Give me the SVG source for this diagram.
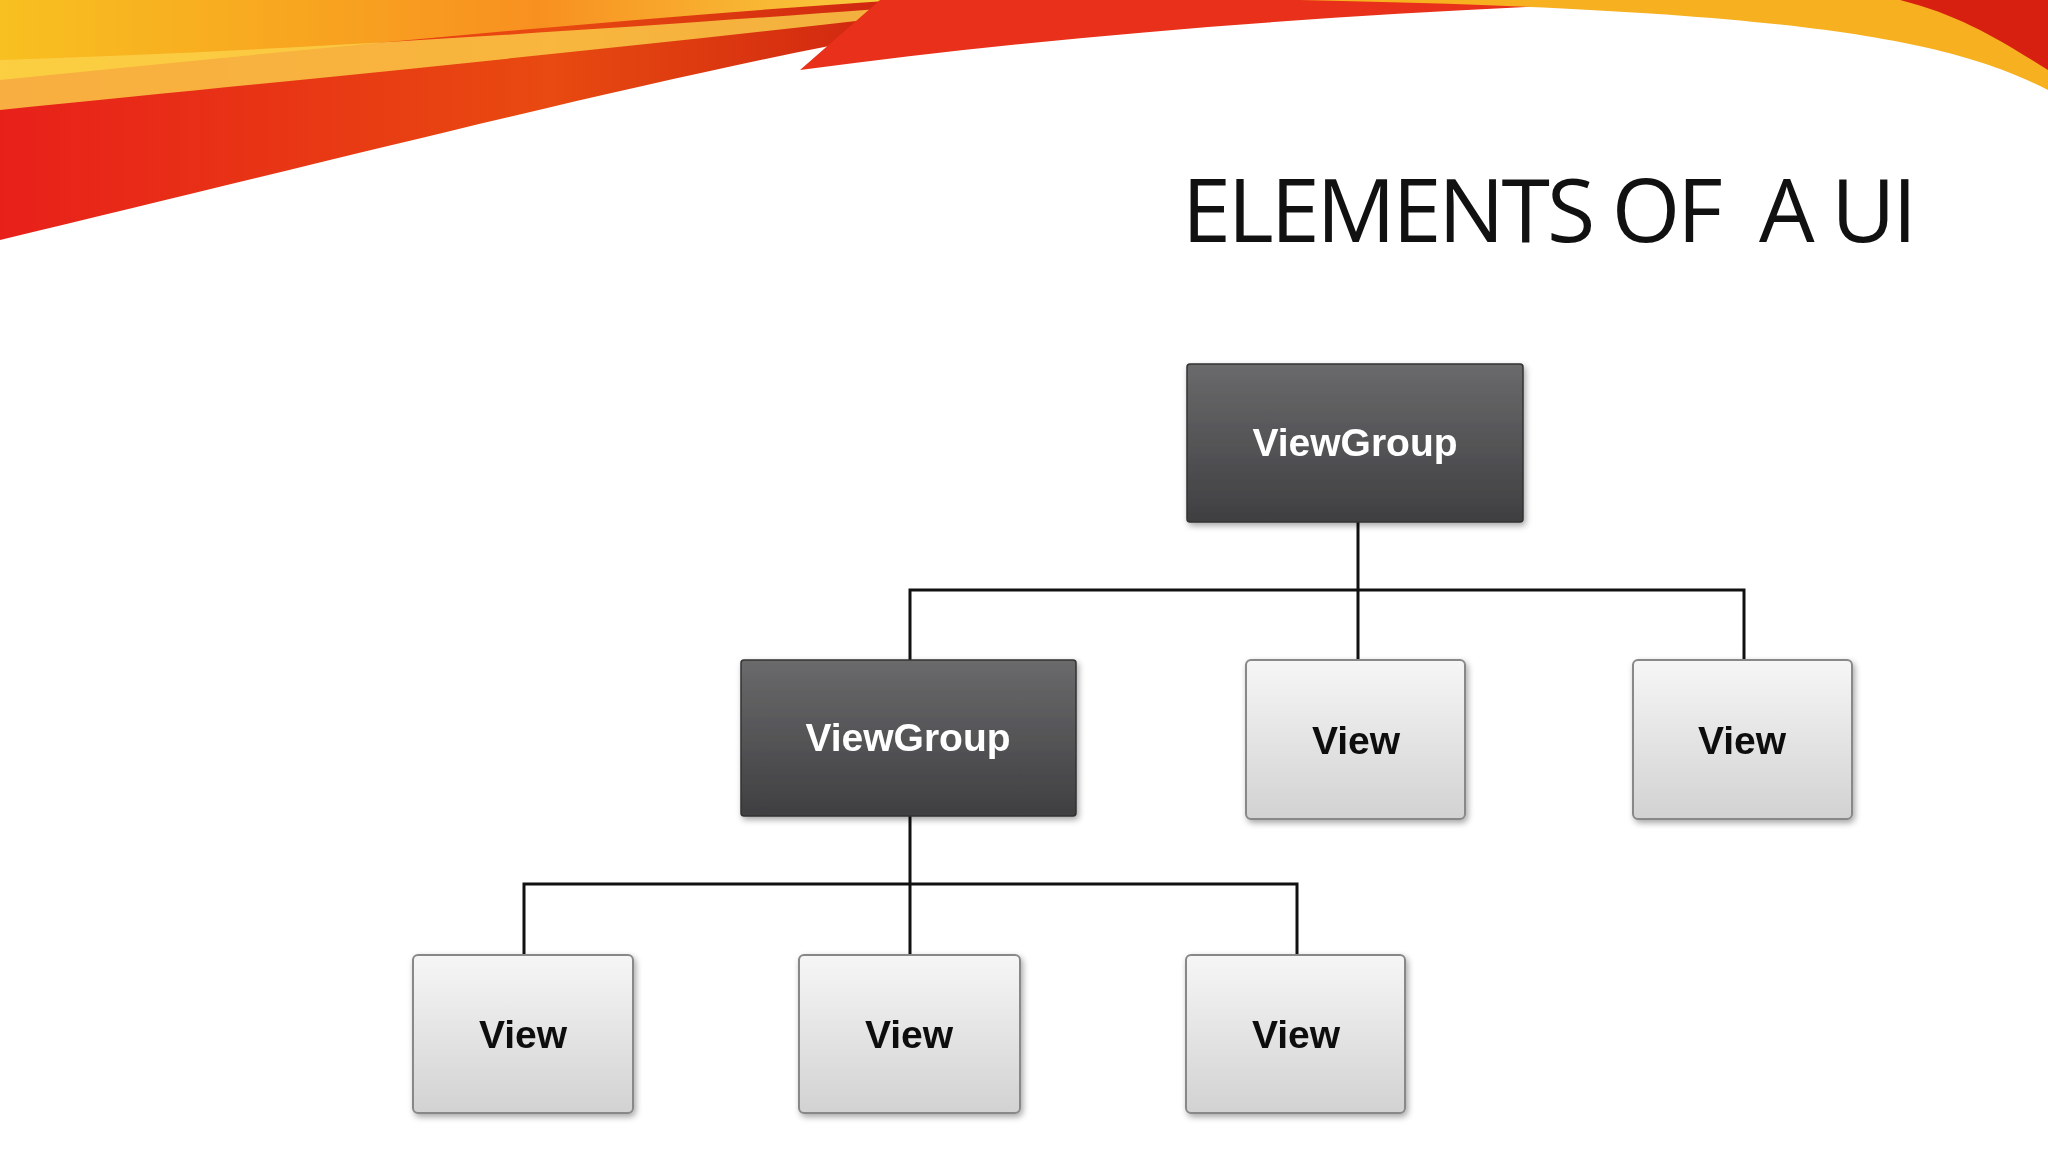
<svg xmlns="http://www.w3.org/2000/svg" width="2048" height="1152" viewBox="0 0 2048 1152">
<defs>
<linearGradient id="dark" x1="0" y1="0" x2="0" y2="1"><stop offset="0" stop-color="#6a6a6c"/><stop offset="1" stop-color="#3f3f41"/></linearGradient>
<linearGradient id="light" x1="0" y1="0" x2="0" y2="1"><stop offset="0" stop-color="#f6f6f6"/><stop offset="1" stop-color="#d2d2d2"/></linearGradient>
<linearGradient id="sw1" x1="0" y1="0" x2="1" y2="0"><stop offset="0" stop-color="#e8201a"/><stop offset="0.5" stop-color="#e84a10"/><stop offset="1" stop-color="#c01010"/></linearGradient>
<linearGradient id="sw2" x1="0" y1="0" x2="1" y2="0"><stop offset="0" stop-color="#f8c020"/><stop offset="0.6" stop-color="#f89020"/><stop offset="1" stop-color="#f8d040"/></linearGradient>
<filter id="sh" x="-10%" y="-10%" width="120%" height="130%"><feDropShadow dx="2" dy="3" stdDeviation="3" flood-opacity="0.35"/></filter>
<style>
.dk{fill:url(#dark);stroke:#333;stroke-width:1.5}
.lt{fill:url(#light);stroke:#888;stroke-width:2}
.tw{font-family:"Liberation Sans",Arial,sans-serif;font-weight:bold;font-size:39px;fill:#fff;text-anchor:middle}
.tb{font-family:"Liberation Sans",Arial,sans-serif;font-weight:bold;font-size:39px;fill:#111;text-anchor:middle}
.ln{fill:none;stroke:#111;stroke-width:3}
</style>
</defs>
<rect width="2048" height="1152" fill="#fff"/>
<g id="swoosh">
<path d="M0 0 H1100 C800 40 500 120 0 240 Z" fill="url(#sw1)"/>
<path d="M0 0 H900 C600 20 300 50 0 80 Z" fill="url(#sw2)"/>
<path d="M0 60 C300 50 600 30 1000 0 H1040 C700 40 400 70 0 110 Z" fill="#fbd24a" opacity="0.8"/>
<path d="M880 0 H1700 C1400 10 1100 30 800 70 Z" fill="#e8301a"/>
<path d="M1300 0 H2048 V90 C1950 40 1800 10 1300 0 Z" fill="#f6b020"/>
<path d="M1900 0 H2048 V70 C2000 40 1960 15 1900 0 Z" fill="#d82010"/>
</g>
<text x="1182" y="242" font-family="'Open Sans',sans-serif" font-size="88" fill="#111" style="white-space:pre" xml:space="preserve" textLength="735">ELEMENTS OF  A UI</text>
<g id="connectors">
<path class="ln" d="M1358 522 V590 M910 660 V590 H1744 V660 M1358 590 V660"/>
<path class="ln" d="M910 816 V884 M524 955 V884 H1297 V955 M910 884 V955"/>
</g>
<g id="vg1" filter="url(#sh)"><rect class="dk" x="1187" y="364" width="336" height="158" rx="3"/><text class="tw" x="1355" y="456">ViewGroup</text></g>
<g id="vg2" filter="url(#sh)"><rect class="dk" x="741" y="660" width="335" height="156" rx="3"/><text class="tw" x="908" y="751">ViewGroup</text></g>
<g id="v1" filter="url(#sh)"><rect class="lt" x="1246" y="660" width="219" height="159" rx="5"/><text class="tb" x="1356" y="754">View</text></g>
<g id="v2" filter="url(#sh)"><rect class="lt" x="1633" y="660" width="219" height="159" rx="5"/><text class="tb" x="1742" y="754">View</text></g>
<g id="v3" filter="url(#sh)"><rect class="lt" x="413" y="955" width="220" height="158" rx="5"/><text class="tb" x="523" y="1048">View</text></g>
<g id="v4" filter="url(#sh)"><rect class="lt" x="799" y="955" width="221" height="158" rx="5"/><text class="tb" x="909" y="1048">View</text></g>
<g id="v5" filter="url(#sh)"><rect class="lt" x="1186" y="955" width="219" height="158" rx="5"/><text class="tb" x="1296" y="1048">View</text></g>
</svg>
